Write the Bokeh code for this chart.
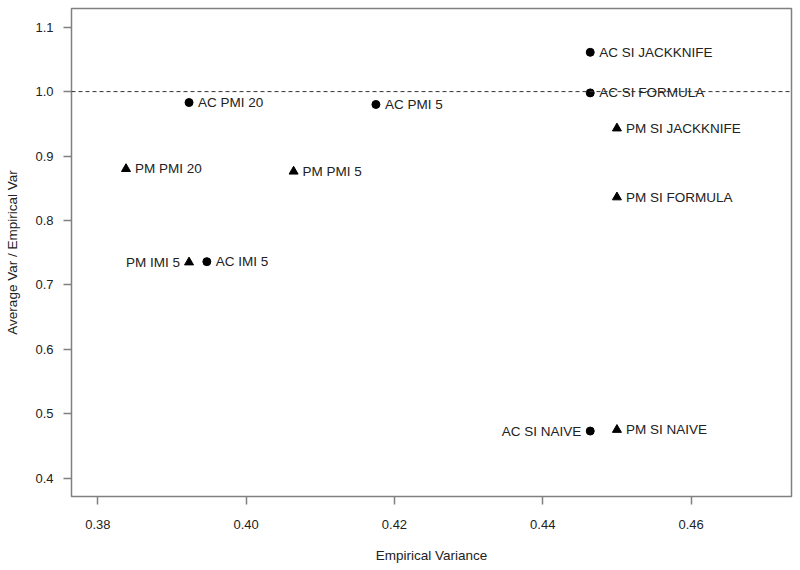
from bokeh.plotting import figure
from bokeh.models import ColumnDataSource, Span, FixedTicker, PrintfTickFormatter, Range1d
from bokeh.core.properties import value
from bokeh.embed import file_html
from bokeh.resources import INLINE

# ---- data ----
ac_names = ["AC PMI 20", "AC PMI 5", "AC IMI 5", "AC SI JACKKNIFE", "AC SI FORMULA", "AC SI NAIVE"]
ac_x = [0.3923, 0.4175, 0.3947, 0.4464, 0.4464, 0.4464]
ac_y = [0.983, 0.980, 0.736, 1.061, 0.998, 0.473]

pm_names = ["PM PMI 20", "PM PMI 5", "PM IMI 5", "PM SI JACKKNIFE", "PM SI FORMULA", "PM SI NAIVE"]
pm_x = [0.3838, 0.4064, 0.3923, 0.4500, 0.4500, 0.4500]
pm_y = [0.880, 0.876, 0.735, 0.943, 0.836, 0.475]

left_labels = ["AC SI NAIVE", "PM IMI 5"]  # labels drawn to the left of their point

x_ticks = [0.38, 0.40, 0.42, 0.44, 0.46]
y_ticks = [0.4, 0.5, 0.6, 0.7, 0.8, 0.9, 1.0, 1.1]
ref_level = 1.0

FONT = "Liberation Sans"
TXT = "#222222"
GRAY = "#808080"

p = figure(width=800, height=570, output_backend="svg", toolbar_location=None,
           x_range=Range1d(0.37645, 0.47354), y_range=Range1d(0.3714, 1.129),
           min_border_left=71, min_border_right=9, min_border_top=8, min_border_bottom=74)

p.background_fill_color = "white"
p.border_fill_color = "white"
p.outline_line_color = GRAY
p.outline_line_width = 1.5
p.xgrid.visible = False
p.ygrid.visible = False

for ax in (p.xaxis[0], p.yaxis[0]):
    ax.axis_line_color = None
    ax.major_tick_line_color = GRAY
    ax.major_tick_line_width = 1.5
    ax.major_tick_in = 0
    ax.major_tick_out = 8
    ax.minor_tick_line_color = None
    ax.major_label_text_font = FONT
    ax.major_label_text_font_size = "13px"
    ax.major_label_text_color = TXT
    ax.axis_label_text_font = FONT
    ax.axis_label_text_font_size = "13.5px"
    ax.axis_label_text_font_style = "normal"
    ax.axis_label_text_color = TXT

p.xaxis.ticker = FixedTicker(ticks=x_ticks)
p.yaxis.ticker = FixedTicker(ticks=y_ticks)
p.xaxis.formatter = PrintfTickFormatter(format="%.2f")
p.yaxis.formatter = PrintfTickFormatter(format="%.1f")
p.xaxis.axis_label = "Empirical Variance"
p.yaxis.axis_label = "Average Var / Empirical Var"
p.xaxis.major_label_standoff = 15
p.yaxis.major_label_standoff = 10
p.xaxis.axis_label_standoff = 16
p.yaxis.axis_label_standoff = 12

p.add_layout(Span(location=ref_level, dimension="width", line_color="#333333",
                  line_width=1, line_dash="4 3"))

ac_src = ColumnDataSource(dict(x=ac_x, y=ac_y, name=ac_names))
pm_src = ColumnDataSource(dict(x=pm_x, y=pm_y, name=pm_names))

p.scatter("x", "y", source=ac_src, marker="circle", size=8, fill_color="black", line_color="black")
p.scatter("x", "y", source=pm_src, marker="triangle", size=9, fill_color="black", line_color="black")

def split(names, xs, ys):
    r = dict(x=[], y=[], t=[])
    l = dict(x=[], y=[], t=[])
    for n, x, y in zip(names, xs, ys):
        d = l if n in left_labels else r
        d["x"].append(x); d["y"].append(y); d["t"].append(n)
    return r, l

for names, xs, ys in ((ac_names, ac_x, ac_y), (pm_names, pm_x, pm_y)):
    r, l = split(names, xs, ys)
    p.text("x", "y", text="t", source=ColumnDataSource(r), text_align="left",
           text_baseline="middle", x_offset=9, text_font=value(FONT),
           text_font_size="13.5px", text_color=TXT)
    p.text("x", "y", text="t", source=ColumnDataSource(l), text_align="right",
           text_baseline="middle", x_offset=-9, text_font=value(FONT),
           text_font_size="13.5px", text_color=TXT)

open("out.html", "w").write(file_html(p, INLINE))
